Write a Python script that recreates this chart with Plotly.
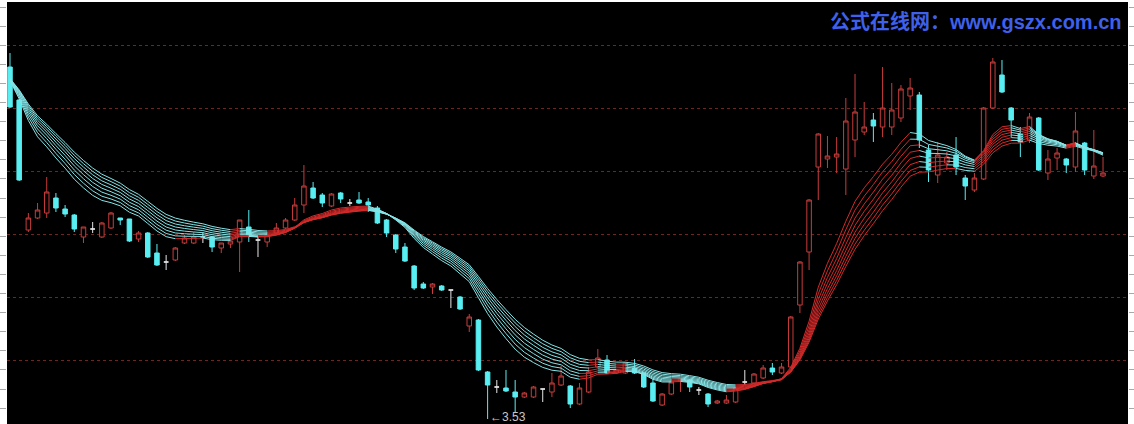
import plotly.graph_objects as go

# ---- data (prices) ----
opens = [4.938, 4.806, 4.286, 4.334, 4.354, 4.414, 4.370, 4.346, 4.258, 4.290,
         4.258, 4.294, 4.334, 4.330, 4.250, 4.274, 4.194, 4.158, 4.166, 4.234,
         4.234, 4.258, 4.258, 4.214, 4.230, 4.238, 4.298, 4.246, 4.238, 4.274,
         4.294, 4.326, 4.386, 4.454, 4.426, 4.382, 4.434, 4.394, 4.406, 4.398,
         4.374, 4.326, 4.266, 4.218, 4.142, 4.070, 4.058, 4.062, 4.046, 4.018,
         3.902, 3.926, 3.718, 3.658, 3.654, 3.638, 3.618, 3.618, 3.650, 3.638,
         3.666, 3.662, 3.590, 3.638, 3.738, 3.766, 3.714, 3.714, 3.734, 3.714,
         3.674, 3.586, 3.630, 3.682, 3.686, 3.646, 3.630, 3.594, 3.594, 3.598,
         3.678, 3.674, 3.694, 3.734, 3.714, 3.738, 3.986, 4.198, 4.538, 4.570,
         4.578, 4.530, 4.646, 4.678, 4.726, 4.698, 4.698, 4.734, 4.822, 4.826,
         4.606, 4.506, 4.554, 4.586, 4.494, 4.446, 4.490, 4.774, 4.906, 4.774,
         4.670, 4.646, 4.734, 4.514, 4.574, 4.570, 4.538, 4.634, 4.502, 4.502]
highs = [4.994, 4.810, 4.354, 4.394, 4.498, 4.434, 4.386, 4.350, 4.298, 4.318,
         4.318, 4.358, 4.334, 4.330, 4.282, 4.278, 4.230, 4.186, 4.218, 4.266,
         4.278, 4.278, 4.262, 4.234, 4.242, 4.326, 4.366, 4.258, 4.278, 4.314,
         4.334, 4.414, 4.546, 4.478, 4.434, 4.434, 4.438, 4.410, 4.438, 4.414,
         4.382, 4.330, 4.270, 4.234, 4.146, 4.078, 4.074, 4.066, 4.046, 4.022,
         3.950, 3.930, 3.722, 3.686, 3.726, 3.686, 3.638, 3.662, 3.650, 3.714,
         3.742, 3.666, 3.674, 3.738, 3.810, 3.786, 3.726, 3.758, 3.770, 3.718,
         3.690, 3.634, 3.690, 3.690, 3.690, 3.658, 3.634, 3.606, 3.626, 3.658,
         3.726, 3.714, 3.746, 3.754, 3.754, 3.942, 4.162, 4.410, 4.674, 4.662,
         4.658, 4.814, 4.910, 4.798, 4.754, 4.938, 4.874, 4.866, 4.894, 4.838,
         4.626, 4.638, 4.598, 4.658, 4.506, 4.514, 4.778, 4.974, 4.966, 4.778,
         4.698, 4.754, 4.738, 4.606, 4.614, 4.574, 4.758, 4.638, 4.686, 4.578]
lows = [4.774, 4.482, 4.278, 4.330, 4.334, 4.358, 4.338, 4.278, 4.234, 4.274,
        4.254, 4.290, 4.306, 4.238, 4.238, 4.174, 4.142, 4.126, 4.162, 4.230,
        4.230, 4.234, 4.198, 4.194, 4.214, 4.118, 4.238, 4.178, 4.218, 4.270,
        4.290, 4.322, 4.354, 4.410, 4.378, 4.378, 4.394, 4.382, 4.390, 4.358,
        4.310, 4.258, 4.194, 4.158, 4.046, 4.050, 4.030, 4.042, 3.974, 3.966,
        3.878, 3.722, 3.530, 3.634, 3.638, 3.558, 3.614, 3.614, 3.598, 3.618,
        3.662, 3.574, 3.586, 3.634, 3.734, 3.710, 3.710, 3.710, 3.710, 3.654,
        3.598, 3.582, 3.626, 3.638, 3.638, 3.626, 3.578, 3.590, 3.590, 3.594,
        3.666, 3.670, 3.690, 3.706, 3.710, 3.734, 3.954, 4.126, 4.406, 4.534,
        4.514, 4.426, 4.578, 4.666, 4.638, 4.658, 4.666, 4.718, 4.766, 4.614,
        4.478, 4.474, 4.526, 4.506, 4.406, 4.438, 4.486, 4.770, 4.834, 4.658,
        4.578, 4.634, 4.522, 4.486, 4.526, 4.514, 4.518, 4.506, 4.490, 4.498]
closes = [4.778, 4.486, 4.334, 4.366, 4.438, 4.374, 4.350, 4.290, 4.298, 4.290,
          4.314, 4.354, 4.326, 4.242, 4.274, 4.178, 4.146, 4.158, 4.214, 4.254,
          4.258, 4.258, 4.218, 4.234, 4.242, 4.326, 4.266, 4.246, 4.266, 4.294,
          4.326, 4.386, 4.462, 4.414, 4.394, 4.430, 4.410, 4.394, 4.394, 4.386,
          4.314, 4.274, 4.210, 4.162, 4.054, 4.054, 4.070, 4.046, 4.046, 3.970,
          3.938, 3.726, 3.666, 3.658, 3.642, 3.618, 3.634, 3.658, 3.650, 3.674,
          3.702, 3.590, 3.654, 3.718, 3.774, 3.714, 3.726, 3.754, 3.714, 3.658,
          3.602, 3.630, 3.678, 3.690, 3.658, 3.646, 3.590, 3.602, 3.606, 3.654,
          3.678, 3.710, 3.734, 3.718, 3.738, 3.938, 4.158, 4.406, 4.670, 4.582,
          4.590, 4.722, 4.758, 4.698, 4.702, 4.774, 4.766, 4.850, 4.854, 4.646,
          4.526, 4.586, 4.578, 4.538, 4.462, 4.494, 4.774, 4.958, 4.838, 4.726,
          4.638, 4.738, 4.526, 4.570, 4.594, 4.546, 4.682, 4.526, 4.542, 4.514]
prior_close = 4.906          # ribbon level at the left edge of the window
ema_periods = [10, 11, 12, 13, 14, 15, 16, 17]
low_label = "←3.53"
low_value = 3.53
watermark = "公式在线网：www.gszx.com.cn"

# ---- styles ----
RED = "#c83c3c"
CYAN = "#58eef2"
WHITE = "#e6e6e6"
RIB_RED = "#d42a2a"
RIB_CYAN = "#86e4e6"

idx = list(range(len(closes)))
fig = go.Figure()


def add_candles(sel, line_col, fill_col):
    if not sel:
        return
    fig.add_trace(go.Candlestick(
        x=sel,
        open=[opens[i] for i in sel], high=[highs[i] for i in sel],
        low=[lows[i] for i in sel], close=[closes[i] for i in sel],
        increasing=dict(line=dict(color=line_col, width=1), fillcolor=fill_col),
        decreasing=dict(line=dict(color=line_col, width=1), fillcolor=fill_col),
        whiskerwidth=0, hoverinfo="skip", showlegend=False,
    ))


add_candles([i for i in idx if closes[i] > opens[i]], RED, "#000000")
add_candles([i for i in idx if closes[i] < opens[i]], CYAN, CYAN)
add_candles([i for i in idx if closes[i] == opens[i]], WHITE, WHITE)


def ema(vals, n, seed):
    a = 2.0 / (n + 1)
    v = seed
    out = []
    for c in vals:
        v = v + a * (c - v)
        out.append(v)
    return out


for n in ema_periods:
    e = ema(closes, n, prior_close)
    rx, ry, cx, cy = [], [], [], []
    for i in range(len(e) - 1):
        if e[i + 1] >= e[i]:
            rx += [i, i + 1, None]; ry += [e[i], e[i + 1], None]
        else:
            cx += [i, i + 1, None]; cy += [e[i], e[i + 1], None]
    fig.add_trace(go.Scatter(x=rx, y=ry, mode="lines", line=dict(color=RIB_RED, width=1),
                             hoverinfo="skip", showlegend=False))
    fig.add_trace(go.Scatter(x=cx, y=cy, mode="lines", line=dict(color=RIB_CYAN, width=1),
                             hoverinfo="skip", showlegend=False))

# dummy traces for the tick-only side axes
fig.add_trace(go.Scatter(x=[None], y=[None], yaxis="y2", showlegend=False, hoverinfo="skip"))
fig.add_trace(go.Scatter(x=[None], y=[None], yaxis="y3", showlegend=False, hoverinfo="skip"))

y_lo, y_hi = 3.51, 5.198
low_idx = lows.index(min(lows))
fig.add_annotation(x=low_idx, y=low_value, text=low_label,
                   showarrow=False, xanchor="left", yanchor="middle", xshift=0, yshift=2,
                   font=dict(family="Liberation Sans, Arial", size=12, color="#c8c8c8"))
fig.add_annotation(xref="paper", yref="paper", x=0.9966, y=0.953, text="<b>" + watermark + "</b>",
                   showarrow=False, xanchor="right", yanchor="middle",
                   font=dict(family="Liberation Sans, Noto Sans CJK SC, sans-serif",
                             size=20, color="#3f60ea"))

side_ticks = dict(range=[y_lo, y_hi], overlaying="y", tickmode="linear", tick0=5.178, dtick=0.0764,
                  ticks="outside", ticklen=6, tickwidth=1, tickcolor="#a8a8a8",
                  showgrid=False, showticklabels=False, zeroline=False, showline=False)

fig.update_layout(
    width=1134, height=424,
    margin=dict(l=7, r=4, t=2, b=0),
    paper_bgcolor="#ffffff", plot_bgcolor="#000000",
    hovermode=False, showlegend=False,
    xaxis=dict(range=[-0.326, 121.72], showgrid=False, zeroline=False, showticklabels=False,
               ticks="", showline=False, rangeslider=dict(visible=False), fixedrange=True),
    yaxis=dict(range=[y_lo, y_hi], tickmode="linear", tick0=3.514, dtick=0.252,
               showgrid=True, gridcolor="#6e2620", griddash="dot", gridwidth=1,
               showticklabels=False, ticks="", zeroline=False, showline=False),
    yaxis2=dict(side="left", **side_ticks),
    yaxis3=dict(side="right", **side_ticks),
)

fig.write_html("out.html", config={"displayModeBar": False, "staticPlot": True},
               post_script="document.body.style.margin='0';document.body.style.overflow='hidden';")
